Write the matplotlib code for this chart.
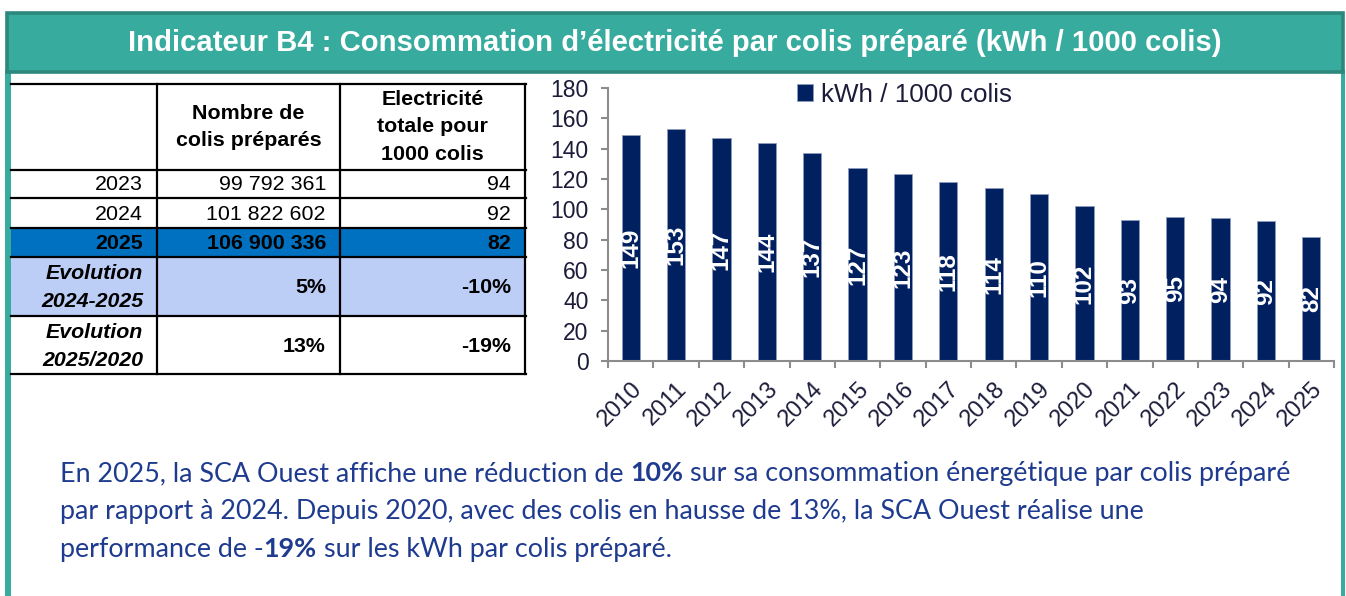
import matplotlib
matplotlib.use("Agg")
import matplotlib.pyplot as plt
from matplotlib.patches import Rectangle
from matplotlib.lines import Line2D
from matplotlib.font_manager import FontProperties
import numpy as np

# ---------------------------------------------------------------- data
years = list(range(2010, 2026))
kwh_per_1000 = [149, 153, 147, 144, 137, 127, 123, 118, 114, 110, 102, 93, 95, 94, 92, 82]

table_header = ["", "Nombre de\ncolis préparés", "Electricité\ntotale pour\n1000 colis"]
table_years = ["2023", "2024", "2025"]
colis_prepares = ["99 792 361", "101 822 602", "106 900 336"]
kwh_table = [94, 92, 82]
evolution_labels = ["Evolution\n2024-2025", "Evolution\n2025/2020"]
evolution_colis = ["5%", "13%"]
evolution_kwh = ["-10%", "-19%"]

title = "Indicateur B4 : Consommation d’électricité par colis préparé (kWh / 1000 colis)"
legend_label = "kWh / 1000 colis"

# commentary: each line is a list of (text, bold) runs
comment_lines = [
    [("En 2025, la SCA Ouest affiche une réduction de ", False), ("10%", True),
     (" sur sa consommation énergétique par colis préparé", False)],
    [("par rapport à 2024. Depuis 2020, avec des colis en hausse de 13%, la SCA Ouest réalise une", False)],
    [("performance de -", False), ("19%", True), (" sur les kWh par colis préparé.", False)],
]

# ---------------------------------------------------------------- style
W, H, DPI = 1346, 596, 100
TEAL = "#38ab9f"
TEAL_DARK = "#2c877d"
NAVY = "#002060"
INK = "#1c1c3a"
AXIS_GREY = "#8c8c8c"
ROW_BLUE = "#0070c0"
ROW_LIGHT = "#bccdf6"
BODY_BLUE = "#1f3b8f"
SANS = "Liberation Sans"
BODY_FONT = "Lato"

plt.rcParams["font.family"] = [SANS, "DejaVu Sans"]

fig = plt.figure(figsize=(W / DPI, H / DPI), dpi=DPI)
renderer = fig.canvas.get_renderer()

# full-figure canvas in pixel units (y pointing down)
bg = fig.add_axes([0, 0, 1, 1])
bg.set_xlim(0, W)
bg.set_ylim(H, 0)
bg.axis("off")

# ---------------------------------------------------------------- frame + title bar
bg.add_patch(Rectangle((5, 70), 6, H - 70, fc=TEAL, ec="none"))
bg.add_patch(Rectangle((1341, 70), 4, H - 70, fc=TEAL, ec="none"))
bg.add_patch(Rectangle((6.5, 12.5), 1336, 59, fc=TEAL, ec=TEAL_DARK, lw=2.6))

t = bg.text(675, 43, title, ha="center", va="center", color="white",
            fontsize=17, fontweight="bold", family=SANS)
tw = t.get_window_extent(renderer).width
t.set_fontsize(17 * 1095 / tw)

# ---------------------------------------------------------------- table
col_x = [10, 157, 340, 525]
row_y = [84, 170, 198, 228, 257, 316, 374]

bg.add_patch(Rectangle((11, row_y[3]), col_x[3] - 11, row_y[4] - row_y[3], fc=ROW_BLUE, ec="none"))
bg.add_patch(Rectangle((11, row_y[4]), col_x[3] - 11, row_y[5] - row_y[4], fc=ROW_LIGHT, ec="none"))

for y in row_y:
    bg.add_line(Line2D([11, col_x[3] + 1], [y, y], color="black", lw=1.6))
for x in col_x[1:]:
    bg.add_line(Line2D([x, x], [row_y[0], row_y[-1]], color="black", lw=1.6))

TFS = 15.4
hy = (row_y[0] + row_y[1]) / 2
for j in (1, 2):
    bg.text((col_x[j] + col_x[j + 1]) / 2, hy, table_header[j], ha="center", va="center",
            fontsize=TFS, fontweight="bold", color="black", linespacing=1.55,
            multialignment="center")

rx = [col_x[1] - 14, col_x[2] - 14, col_x[3] - 14]
for i in range(3):
    yc = (row_y[i + 1] + row_y[i + 2]) / 2 + 1
    bold = "bold" if i == 2 else "normal"
    vals = [table_years[i], colis_prepares[i], str(kwh_table[i])]
    for j in range(3):
        bg.text(rx[j], yc, vals[j], ha="right", va="center", fontsize=TFS, fontweight=bold,
                color="black")

for i in range(2):
    yc = (row_y[4 + i] + row_y[5 + i]) / 2 + 1
    bg.text(rx[0], yc, evolution_labels[i], ha="right", va="center", fontsize=TFS,
            fontweight="bold", fontstyle="italic", color="black", linespacing=1.6,
            multialignment="right")
    bg.text(rx[1], yc, evolution_colis[i], ha="right", va="center", fontsize=TFS,
            fontweight="bold", color="black")
    bg.text(rx[2], yc, evolution_kwh[i], ha="right", va="center", fontsize=TFS,
            fontweight="bold", color="black")

# ---------------------------------------------------------------- commentary text
def text_width(s, size, bold):
    fp = FontProperties(family=BODY_FONT, size=size, weight="bold" if bold else "normal")
    w, _, _ = renderer.get_text_width_height_descent(s, fp, ismath=False)
    return w


def layout_line(runs, size, x0=None, y=None):
    gap = text_width("n n", size, False) - text_width("nn", size, False)
    x = 0.0 if x0 is None else x0
    for s, b in runs:
        lead = len(s) - len(s.lstrip(" "))
        trail = len(s) - len(s.rstrip(" "))
        x += lead * gap
        core = s.strip(" ")
        if x0 is not None:
            bg.text(x, y, core, ha="left", va="baseline", fontsize=size, family=BODY_FONT,
                    fontweight="bold" if b else "normal", color=BODY_BLUE)
        x += text_width(core, size, b)
        x += trail * gap
    return x - (0.0 if x0 is None else x0)


base = 16.0
body_size = base * 1236 / layout_line(comment_lines[0], base)
for runs, yb in zip(comment_lines, [481, 519, 557]):
    layout_line(runs, body_size, x0=60, y=yb)

# ---------------------------------------------------------------- bar chart
ax = fig.add_axes([608 / W, 1 - 361 / H, (1334 - 608) / W, (361 - 88) / H])
ax.patch.set_alpha(0)
xpos = np.arange(len(years))
bars = ax.bar(xpos, kwh_per_1000, width=0.4, color=NAVY, edgecolor="#8f9bbd",
              linewidth=0.6, label=legend_label, zorder=2)

for xi, v in zip(xpos, kwh_per_1000):
    ax.text(xi, v / 2, str(v), rotation=90, ha="center", va="center", color="white",
            fontsize=17.5, fontweight="bold", zorder=3)

ax.set_xlim(-0.5, len(years) - 0.5)
ax.set_ylim(0, 180)
ax.set_yticks(range(0, 181, 20))
ax.set_xticks(xpos)
ax.set_xticklabels([str(y) for y in years], rotation=45, ha="right", rotation_mode="anchor")
ax.set_xticks(np.arange(-0.5, len(years), 1), minor=True)

ax.tick_params(axis="y", length=5, width=1.5, color=AXIS_GREY, labelsize=16.5,
               labelcolor=INK, pad=9)
ax.tick_params(axis="x", which="major", length=0, labelsize=17, labelcolor=INK, pad=12)
ax.tick_params(axis="x", which="minor", length=5, width=1.5, color=AXIS_GREY)
for lbl in ax.get_xticklabels():
    lbl.set_x(lbl.get_position()[0])

for side in ("top", "right"):
    ax.spines[side].set_visible(False)
for side in ("left", "bottom"):
    ax.spines[side].set_color(AXIS_GREY)
    ax.spines[side].set_linewidth(1.5)

leg = ax.legend(loc="upper left", bbox_to_anchor=(797 / W, 1 - 83 / H),
                bbox_transform=fig.transFigure, frameon=False, fontsize=18.7,
                handlelength=0.62, handleheight=0.62, handletextpad=0.3,
                borderpad=0, borderaxespad=0)
for txt in leg.get_texts():
    txt.set_color(INK)

fig.savefig("out.png", dpi=DPI)
